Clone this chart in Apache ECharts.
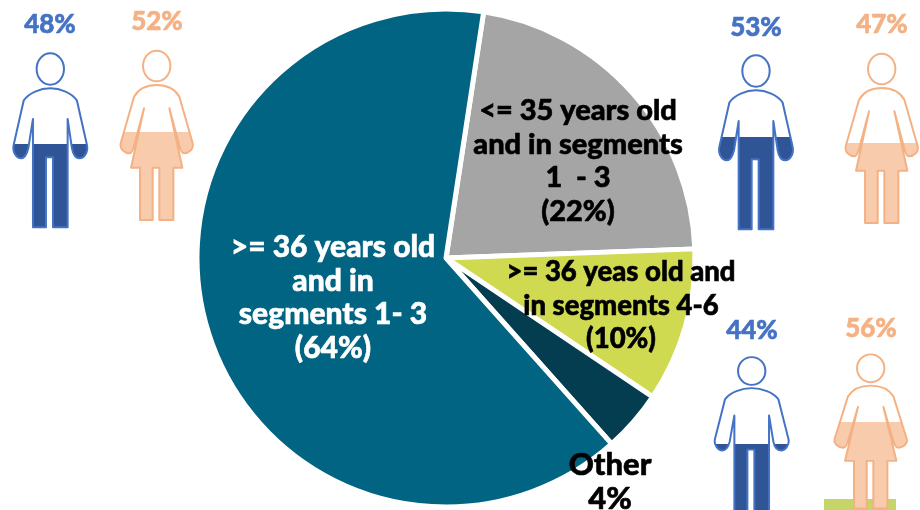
<!DOCTYPE html>
<html><head><meta charset="utf-8">
<style>html,body{margin:0;padding:0;background:#fff;overflow:hidden}#c{width:920px;height:510px}</style>
<script src="https://cdn.jsdelivr.net/npm/echarts@6/dist/echarts.min.js"></script>
</head><body><div id="c"></div>
<script>
// Pie data
const segmentLabels = [
  "<= 35 years old\nand in segments\n1  - 3\n(22%)",
  ">= 36 yeas old and\nin segments 4-6\n(10%)",
  "Other\n4%",
  ">= 36 years old\nand in\nsegments 1- 3\n(64%)"
];
const segmentValues = [22, 10, 4, 64];
const segmentColors = ["#a5a5a5", "#cfda50", "#033d4f", "#006482"];
const labelColors = ["#000000", "#000000", "#000000", "#ffffff"];
const labelCenters = [[578,161],[621,306],[610,482],[333,298]];
const labelSizes = [29, 27.5, 31, 30];

// Gender icons
const genderShares = [48, 52, 53, 47, 44, 56];
const genderKinds = ["m", "f", "m", "f", "m", "f"];
const iconHeads = [[50.3,69],[156.7,66],[756,71],[881.7,69],[751.7,371],[870.7,368.3]];
const iconLabelCenters = [[50,25],[157,22],[756,28],[882,25],[752,331],[871,329]];
const iconVerticalScale = [1,1,1,1,0.89,0.91];

const shapes = {
  m: { top:58, bottom:475, headRx:41, headRy:47, stroke:"#4472c4", fill:"#2f5597", body:
    "M0 58C30 58 65 72 80 95L110 228C115 250 100 268 88 268C75 268 68 255 65 238L52 150L52 475L8 475L8 265L-13 265L-13 475L-52 475L-52 150L-66 238C-70 255 -78 268 -88 268C-100 268 -115 250 -110 228L-80 95C-65 72 -30 58 0 58Z" },
  f: { top:57, bottom:462, headRx:41, headRy:46, stroke:"#f4b183", fill:"#f8cbad", body:
    "M0 57C30 57 55 70 68 92L108 232C112 250 95 262 82 262C75 262 70 250 66 232L38 127L77 305L50 305L50 462L8 462L8 305L-12 305L-12 462L-50 462L-50 305L-77 305L-38 127L-66 232C-70 250 -75 262 -82 262C-95 262 -112 250 -108 232L-68 92C-55 70 -30 57 0 57Z" }
};

function renderIcon(params, api){
  const i = params.dataIndex;
  const s = shapes[genderKinds[i]];
  const h = iconHeads[i], vs = iconVerticalScale[i], c = iconLabelCenters[i];
  const total = s.bottom + s.headRy;
  const levelY = s.bottom - api.value(0) / 100 * total;
  const off = Math.max(0, Math.min(1, (levelY - s.top) / (s.bottom - s.top)));
  const grad = {type:"linear",x:0,y:0,x2:0,y2:1,global:false,colorStops:[
    {offset:0,color:"#ffffff"},{offset:off,color:"#ffffff"},
    {offset:off,color:s.fill},{offset:1,color:s.fill}]};
  return {
    type:"group",
    children:[
      {type:"group", x:h[0], y:h[1], scaleX:1/3, scaleY:vs/3, children:[
        {type:"ellipse", shape:{cx:0,cy:0,rx:s.headRx,ry:s.headRy},
         style:{fill:"#ffffff",stroke:s.stroke,lineWidth:6}},
        {type:"path", shape:{pathData:s.body},
         style:{fill:grad,stroke:s.stroke,lineWidth:6,lineJoin:"round"}}
      ]},
      {type:"text", x:c[0], y:c[1],
       style:{text:api.value(0)+"%", fill:s.stroke, stroke:s.stroke, lineWidth:0.6, font:'900 26px Lato', align:"center", verticalAlign:"middle"}}
    ]
  };
}

const chart = echarts.init(document.getElementById("c"), null, {renderer:"canvas"});

chart.setOption({
  animation:false,
  backgroundColor:"#ffffff",
  graphic:[{type:"rect", shape:{x:824,y:499,width:72,height:11}, style:{fill:"#c6d568"}, z:1, silent:true}],
  series:[{
    type:"pie",
    center:[446,258],
    radius:[0,249],
    startAngle:81.3,
    clockwise:true,
    silent:true,
    itemStyle:{borderColor:"#ffffff",borderWidth:5},
    labelLine:{show:false},
    label:{show:true,position:"inside",fontFamily:"Lato",fontWeight:900,lineHeight:33.5,align:"center",verticalAlign:"middle"},
    labelLayout:(p)=>({x:labelCenters[p.dataIndex][0],y:labelCenters[p.dataIndex][1],align:"center",verticalAlign:"middle",hideOverlap:false}),
    data:segmentValues.map((v,i)=>({
      value:v,
      name:segmentLabels[i],
      itemStyle:{color:segmentColors[i]},
      label:{formatter:segmentLabels[i],color:labelColors[i],fontSize:labelSizes[i],textBorderColor:labelColors[i],textBorderWidth:0.6}
    }))
  },{
    type:"custom",
    coordinateSystem:"none",
    silent:true,
    z:10,
    renderItem:renderIcon,
    data:genderShares.map(v=>[v])
  }]
});
</script></body></html>
